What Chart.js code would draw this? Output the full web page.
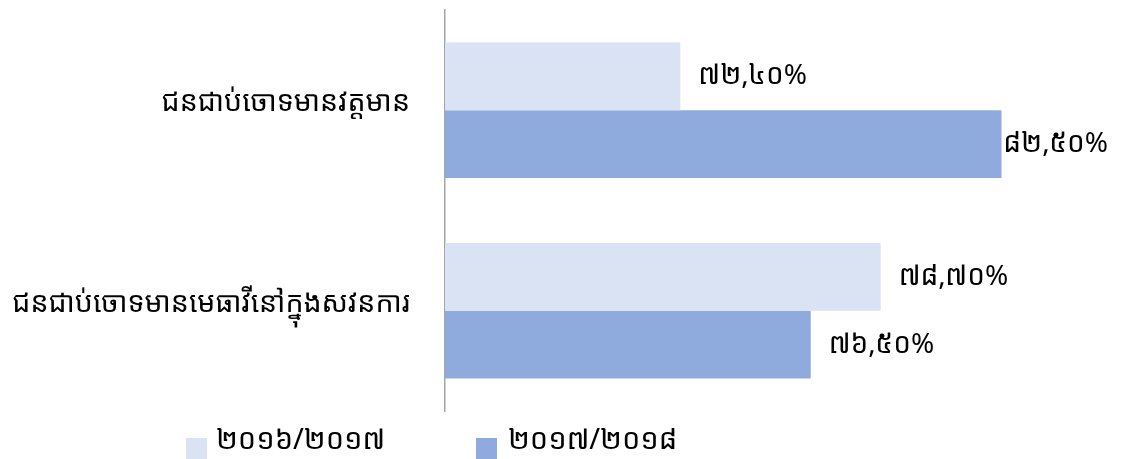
<!DOCTYPE html>
<html>
<head>
<meta charset="utf-8">
<script src="https://cdn.jsdelivr.net/npm/chart.js@4"></script>
<style>
  html, body { margin: 0; padding: 0; background: #ffffff; }
  #wrap { width: 1124px; height: 459px; position: relative; }
</style>
</head>
<body>
<div id="wrap"><canvas id="c" width="1124" height="459"></canvas></div>
<script>
const categories = ['ជនជាប់ចោទមានវត្តមាន', 'ជនជាប់ចោទមានមេធាវីនៅក្នុងសវនការ'];
const seriesNames = ['២០១៦/២០១៧', '២០១៧/២០១៨'];
const values2016 = [72.4, 78.7];
const values2017 = [82.5, 76.5];
const labels2016 = ['៧២,៤០%', '៧៨,៧០%'];
const labels2017 = ['៨២,៥០%', '៧៦,៥០%'];
const axisMin = 65;
const axisMax = 85;

const colors = ['#dae3f3', '#8faadc'];
const FONT = "'Noto Sans Khmer', 'Khmer OS', 'DejaVu Sans', 'Noto Sans', sans-serif";

const valueLabels = {
  id: 'valueLabels',
  afterDatasetsDraw(chart) {
    const ctx = chart.ctx;
    const texts = [labels2016, labels2017];
    ctx.save();
    ctx.font = '28px ' + FONT;
    ctx.fillStyle = '#000000';
    ctx.textBaseline = 'middle';
    ctx.textAlign = 'left';
    chart.data.datasets.forEach((ds, di) => {
      const meta = chart.getDatasetMeta(di);
      meta.data.forEach((bar, i) => {
        const t = texts[di][i];
        const w = ctx.measureText(t).width;
        let x = bar.x + 18;
        const maxX = chart.width - 16 - w;
        if (x > maxX) x = maxX;
        ctx.fillText(t, x, bar.y);
      });
    });
    ctx.restore();
  }
};

const customLegend = {
  id: 'customLegend',
  afterDraw(chart) {
    const ctx = chart.ctx;
    const xs = [186, 476];
    const tx = [216, 508];
    ctx.save();
    ctx.font = '29px ' + FONT;
    ctx.textBaseline = 'middle';
    ctx.textAlign = 'left';
    seriesNames.forEach((name, i) => {
      ctx.fillStyle = colors[i];
      ctx.fillRect(xs[i], 438, 21, 21);
      ctx.fillStyle = '#000000';
      ctx.fillText(name, tx[i], 441);
    });
    ctx.restore();
  }
};

new Chart(document.getElementById('c'), {
  type: 'bar',
  data: {
    labels: categories,
    datasets: [
      { label: seriesNames[0], data: values2016, backgroundColor: colors[0], borderWidth: 0,
        categoryPercentage: 0.677, barPercentage: 1 },
      { label: seriesNames[1], data: values2017, backgroundColor: colors[1], borderWidth: 0,
        categoryPercentage: 0.677, barPercentage: 1 }
    ]
  },
  options: {
    indexAxis: 'y',
    responsive: false,
    animation: false,
    devicePixelRatio: 1,
    layout: { padding: { top: 10, bottom: 48, left: 0, right: 43 } },
    plugins: {
      legend: { display: false },
      tooltip: { enabled: false }
    },
    scales: {
      x: {
        display: false,
        min: axisMin,
        max: axisMax
      },
      y: {
        afterFit(scale) {
          scale.width = 445;
          scale.paddingTop = 0;
          scale.paddingBottom = 0;
        },
        grid: { display: false },
        border: { display: true, color: '#a6a6a6', width: 1.5 },
        ticks: {
          color: '#000000',
          padding: 27,
          labelOffset: -7,
          font: { size: 28.5, family: FONT }
        }
      }
    }
  },
  plugins: [valueLabels, customLegend]
});
</script>
</body>
</html>
